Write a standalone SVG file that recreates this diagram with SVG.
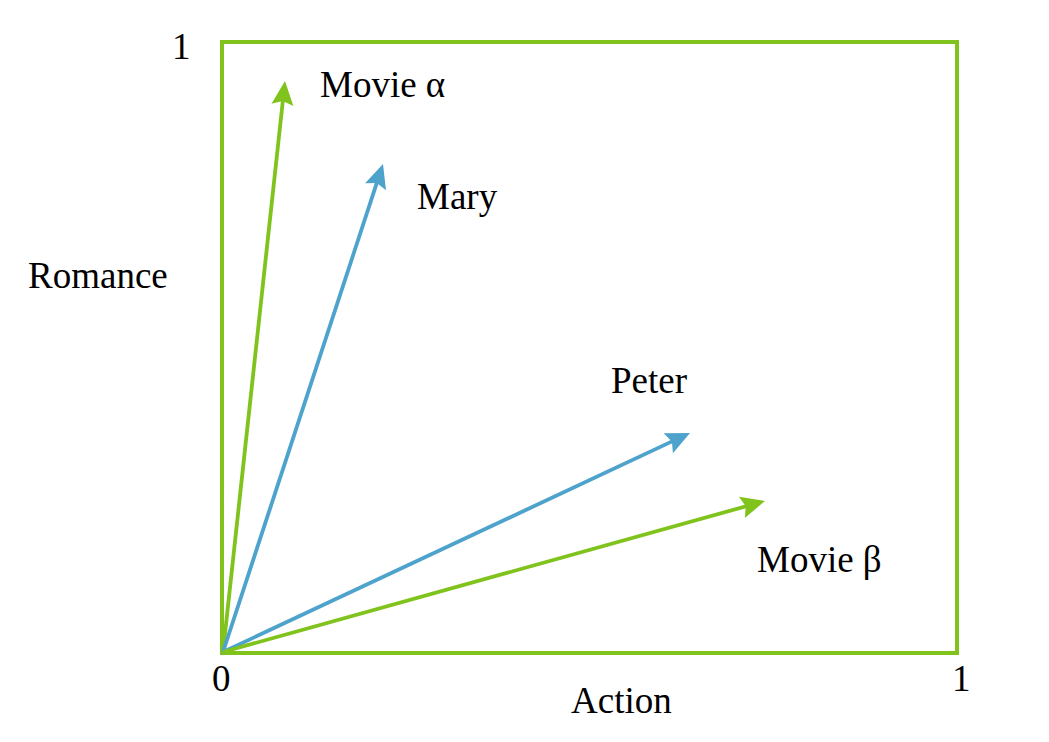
<svg xmlns="http://www.w3.org/2000/svg" width="1049" height="742" viewBox="0 0 1049 742">
<style>
text{font-family:"Liberation Serif","Times New Roman",serif;font-size:37px;fill:#000}
.g{stroke:#80C31C;stroke-width:3.8;fill:none}
.b{stroke:#4EA3CC;stroke-width:3.8;fill:none}
</style>
<defs>
<marker id="ag" markerUnits="userSpaceOnUse" viewBox="-10 -12 30 24" markerWidth="30" markerHeight="24" refX="0" refY="0" orient="auto" overflow="visible">
<path d="M18,0 L-6,-11 L-2,0 L-6,11 Z" fill="#80C31C"/>
</marker>
<marker id="ab" markerUnits="userSpaceOnUse" viewBox="-10 -12 30 24" markerWidth="30" markerHeight="24" refX="0" refY="0" orient="auto" overflow="visible">
<path d="M18,0 L-6,-11 L-2,0 L-6,11 Z" fill="#4EA3CC"/>
</marker>
</defs>
<rect width="1049" height="742" fill="#fff"/>
<g id="frame">
<rect x="222" y="42" width="735" height="611" fill="none" stroke="#80C31C" stroke-width="4"/>
</g>
<g id="axis-labels">
<text x="172" y="59">1</text>
<text x="212" y="691">0</text>
<text x="952" y="691">1</text>
<text x="28" y="288">Romance</text>
<text x="571" y="713">Action</text>
</g>
<g id="connectors">
<line class="g" x1="223" y1="652" x2="283.06" y2="98.89" marker-end="url(#ag)"/>
<line class="b" x1="223" y1="652" x2="377.39" y2="181.10" marker-end="url(#ab)"/>
<line class="b" x1="223" y1="652" x2="673.70" y2="440.64" marker-end="url(#ab)"/>
<line class="g" x1="223" y1="652" x2="747.66" y2="505.83" marker-end="url(#ag)"/>
</g>
<g id="movie-alpha"><text x="320" y="97">Movie α</text></g>
<g id="mary"><text x="417" y="209">Mary</text></g>
<g id="peter"><text x="611" y="393">Peter</text></g>
<g id="movie-beta"><text x="757" y="572">Movie β</text></g>
</svg>
